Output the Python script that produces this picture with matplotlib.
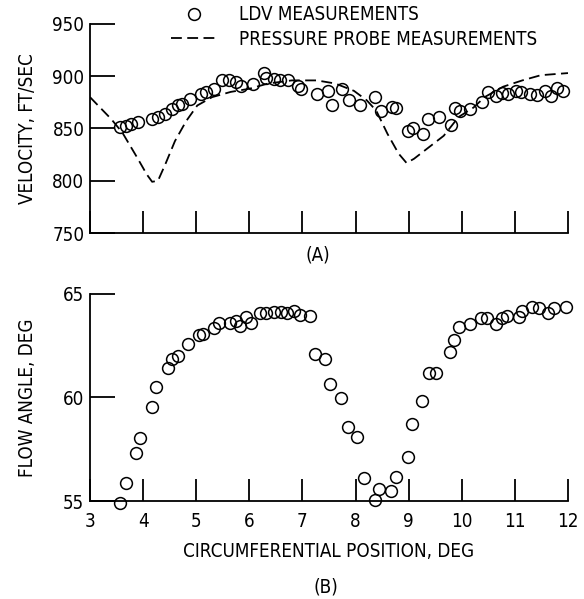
import matplotlib
matplotlib.use('Agg')
import matplotlib.pyplot as plt
from matplotlib import font_manager

# narrow lettering like the original figure; use what is installed
ttf = font_manager.fontManager.ttflist
names = {f.name for f in ttf}
stretch = 'normal'
if 'Liberation Sans Narrow' in names:
    family = 'Liberation Sans Narrow'
elif any(f.name == 'DejaVu Sans' and f.stretch == 'condensed' for f in ttf):
    family, stretch = 'DejaVu Sans', 'condensed'
else:
    narrow = sorted(n for n in names if 'Condensed' in n or 'Narrow' in n)
    family = narrow[0] if narrow else 'Roboto'
plt.rcParams['font.family'] = [family, 'DejaVu Sans']
plt.rcParams['font.stretch'] = stretch

# --- (A) velocity, LDV points
ldv_pos_a = [3.56, 3.67, 3.77, 3.91, 4.17, 4.28, 4.42, 4.54, 4.65, 4.74, 4.88, 5.09, 5.19, 5.33,
             5.48, 5.62, 5.74, 5.85, 6.07, 6.27, 6.32, 6.46, 6.58, 6.72, 6.92, 6.97, 7.27, 7.49,
             7.55, 7.75, 7.87, 8.08, 8.36, 8.47, 8.68, 8.77, 8.99, 9.08, 9.27, 9.37, 9.57, 9.80,
             9.88, 9.97, 10.16, 10.39, 10.50, 10.64, 10.75, 10.87, 11.03, 11.12, 11.28, 11.42,
             11.56, 11.68, 11.80, 11.91]
ldv_vel = [851, 852, 854, 856, 859, 861, 864, 869, 872, 873, 878, 883, 885, 888,
           896, 896, 894, 891, 893, 903, 898, 897, 896, 896, 891, 888, 883, 886,
           872, 888, 877, 872, 880, 867, 871, 870, 848, 850, 845, 859, 861, 853,
           870, 867, 869, 875, 885, 881, 884, 883, 886, 885, 883, 882,
           886, 881, 889, 886]

# --- (A) velocity, pressure probe curve
probe_pos = [3.0, 3.4, 3.61, 3.89, 4.07, 4.17, 4.28, 4.42, 4.6, 4.81, 5.02, 5.3, 5.65, 6.0,
             6.35, 6.8, 7.27, 7.62, 7.97, 8.21, 8.39, 8.6, 8.81, 8.96, 9.1, 9.38, 9.66, 9.94,
             10.22, 10.43, 10.78, 11.14, 11.49, 12.0]
probe_vel = [880, 859, 846, 822, 806, 799, 800, 816, 838, 857, 872, 880, 885, 888,
             893, 896, 896, 893, 886, 877, 867, 845, 826, 817, 821, 832, 843, 861,
             870, 880, 890, 896, 901, 903]

# --- (B) flow angle, LDV points
ldv_pos_b = [3.56, 3.67, 3.86, 3.95, 4.16, 4.24, 4.46, 4.54, 4.65, 4.84, 5.05, 5.12, 5.33, 5.43,
             5.64, 5.74, 5.83, 5.93, 6.04, 6.20, 6.32, 6.46, 6.60, 6.71, 6.85, 6.95, 7.14, 7.23,
             7.42, 7.52, 7.73, 7.85, 8.03, 8.15, 8.36, 8.45, 8.66, 8.76, 8.98, 9.06, 9.25, 9.38,
             9.52, 9.77, 9.86, 9.94, 10.15, 10.36, 10.47, 10.65, 10.75, 10.86, 11.07, 11.14,
             11.33, 11.45, 11.63, 11.74, 11.97]
flow_angle = [54.92, 55.88, 57.32, 58.06, 59.56, 60.52, 61.42, 61.85, 62.0, 62.6, 63.0, 63.05,
              63.34, 63.6, 63.6, 63.7, 63.45, 63.9, 63.58, 64.09, 64.09, 64.14, 64.14, 64.09,
              64.17, 63.98, 63.93, 62.09, 61.85, 60.65, 59.96, 58.57, 58.09, 56.09, 55.05,
              55.6, 55.48, 56.17, 57.13, 58.7, 59.82, 61.2, 61.2, 62.2, 62.8, 63.4, 63.53,
              63.85, 63.85, 63.53, 63.85, 63.93, 63.88, 64.17, 64.36, 64.3, 64.09, 64.33, 64.36]

x_ticks = [3, 4, 5, 6, 7, 8, 9, 10, 11, 12]
vel_ticks = [750, 800, 850, 900, 950]
ang_ticks = [55, 60, 65]

FS = 13.5
fig = plt.figure(figsize=(5.84, 5.99), dpi=100)
ax_a = fig.add_axes([0.1541, 0.611, 0.8185, 0.349])
ax_b = fig.add_axes([0.1541, 0.1636, 0.8185, 0.3456])

mk = dict(marker='o', ls='none', ms=8.5, mfc='none', mec='black', mew=1.1, clip_on=False)

ax_a.plot(probe_pos, probe_vel, color='black', lw=1.3, dashes=(6, 3),
          label='PRESSURE PROBE MEASUREMENTS')
ax_a.plot(ldv_pos_a, ldv_vel, label='LDV MEASUREMENTS', **mk)
ax_b.plot(ldv_pos_b, flow_angle, **mk)

for ax in (ax_a, ax_b):
    ax.set_xlim(3, 12)
    ax.spines[['top', 'right']].set_visible(False)
    for s in ('left', 'bottom'):
        ax.spines[s].set_linewidth(1.3)
    ax.set_xticks(x_ticks)
    ax.tick_params(axis='x', direction='in', length=16, width=1.3, pad=8, labelsize=FS)
    ax.tick_params(axis='y', direction='in', length=18, width=1.3, pad=4, labelsize=FS)

ax_a.set_ylim(750, 950)
ax_a.set_yticks(vel_ticks)
ax_a.tick_params(axis='x', labelbottom=False)
ax_a.set_ylabel('VELOCITY, FT/SEC', fontsize=FS, va='center')
ax_a.yaxis.set_label_coords(-0.13, 0.5)

ax_b.set_ylim(55, 65)
ax_b.set_yticks(ang_ticks)
ax_b.set_ylabel('FLOW ANGLE, DEG', fontsize=FS, va='center')
ax_b.yaxis.set_label_coords(-0.13, 0.5)
ax_b.set_xlabel('CIRCUMFERENTIAL POSITION, DEG', fontsize=FS, labelpad=8)

h, l = ax_a.get_legend_handles_labels()
ax_a.legend(h[::-1], l[::-1], loc='upper left', bbox_to_anchor=(0.17, 1.09),
            frameon=False, fontsize=FS, borderpad=0, borderaxespad=0,
            handlelength=2.4, handletextpad=1.2, labelspacing=0.3)

fig.text(318 / 584, 1 - 255 / 599, '(A)', fontsize=FS, ha='center', va='center')
fig.text(326 / 584, 1 - 587 / 599, '(B)', fontsize=FS, ha='center', va='center')

fig.savefig('out.png', dpi=100)
plt.close(fig)
